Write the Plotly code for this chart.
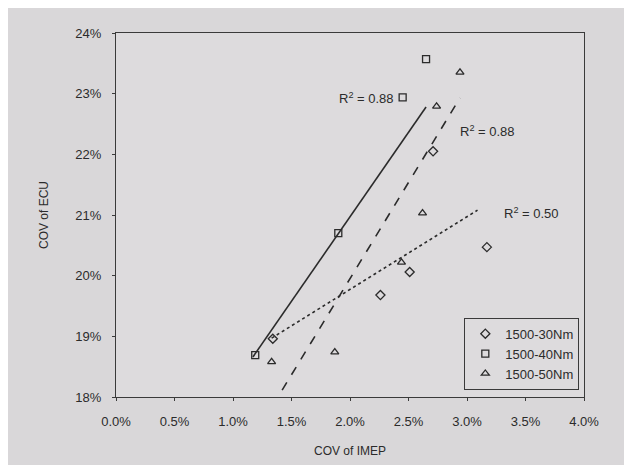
import plotly.graph_objects as go

# COV of IMEP (%) vs COV of ECU (%) per load case
imep_30 = [1.34, 2.26, 2.51, 2.71, 3.17]
ecu_30 = [18.96, 19.68, 20.06, 22.05, 20.47]

imep_40 = [1.19, 1.90, 2.45, 2.65]
ecu_40 = [18.69, 20.70, 22.94, 23.57]

imep_50 = [1.33, 1.87, 2.44, 2.62, 2.74, 2.94]
ecu_50 = [18.58, 18.74, 20.22, 21.03, 22.79, 23.35]

# linear trendlines (start/end)
fit_x_30, fit_y_30 = [1.33, 3.09], [18.97, 21.08]
fit_x_40, fit_y_40 = [1.17, 2.65], [18.66, 22.78]
fit_x_50, fit_y_50 = [1.34, 2.94], [17.86, 22.93]

series_names = ["1500-30Nm", "1500-40Nm", "1500-50Nm"]
r2_labels = ["R<sup>2</sup> = 0.50", "R<sup>2</sup> = 0.88", "R<sup>2</sup> = 0.88"]

x_ticks = [0, 0.5, 1.0, 1.5, 2.0, 2.5, 3.0, 3.5, 4.0]
x_tick_text = ["0.0%", "0.5%", "1.0%", "1.5%", "2.0%", "2.5%", "3.0%", "3.5%", "4.0%"]
y_ticks = [18, 19, 20, 21, 22, 23, 24]
y_tick_text = ["18%", "19%", "20%", "21%", "22%", "23%", "24%"]

INK = "#2b2b2b"
fig = go.Figure()

# trendlines
fig.add_trace(go.Scatter(x=fit_x_30, y=fit_y_30, mode="lines", showlegend=False,
                         line=dict(color=INK, width=1.6, dash="dot")))
fig.add_trace(go.Scatter(x=fit_x_40, y=fit_y_40, mode="lines", showlegend=False,
                         line=dict(color=INK, width=1.6)))
fig.add_trace(go.Scatter(x=fit_x_50, y=fit_y_50, mode="lines", showlegend=False,
                         line=dict(color=INK, width=1.6, dash="dash")))

# data points
for xs, ys, name, sym in [
    (imep_30, ecu_30, series_names[0], "diamond-open"),
    (imep_40, ecu_40, series_names[1], "square-open"),
    (imep_50, ecu_50, series_names[2], "triangle-up-open"),
]:
    fig.add_trace(go.Scatter(
        x=xs, y=ys, mode="markers", name=name,
        marker=dict(symbol=sym, size=7, color=INK, line=dict(color=INK, width=1.3)),
    ))

# R² labels
fig.add_annotation(x=fit_x_30[1], y=fit_y_30[1], text=r2_labels[0], showarrow=False,
                   xanchor="left", xshift=24, yshift=-3, font=dict(size=13))
fig.add_annotation(x=fit_x_40[1], y=fit_y_40[1], text=r2_labels[1], showarrow=False,
                   xanchor="right", xshift=-30, yshift=9, font=dict(size=13))
fig.add_annotation(x=fit_x_50[1], y=fit_y_50[1], text=r2_labels[2], showarrow=False,
                   xanchor="left", xshift=-2, yshift=-33, font=dict(size=13))

axis_common = dict(showline=True, linecolor="#3a3a3a", linewidth=1, mirror=True,
                   showgrid=False, zeroline=False, ticks="outside", ticklen=3,
                   tickcolor="#3a3a3a", tickfont=dict(size=13, color=INK))

fig.update_layout(
    width=632, height=465,
    paper_bgcolor="#d9d7d9", plot_bgcolor="#dddbdd",
    font=dict(family="Liberation Sans, Arial, sans-serif", size=12, color=INK),
    margin=dict(l=108, r=56, t=25, b=76),
    xaxis=dict(range=[0, 4], tickvals=x_ticks, ticktext=x_tick_text,
               ticklabelstandoff=9,
               title=dict(text="COV of IMEP", font=dict(size=12), standoff=19),
               **axis_common),
    yaxis=dict(range=[18, 24], tickvals=y_ticks, ticktext=y_tick_text,
               ticklabelstandoff=8,
               title=dict(text="COV of ECU", font=dict(size=12), standoff=24),
               **axis_common),
    legend=dict(x=0.99, y=0.02, xanchor="right", yanchor="bottom",
                bgcolor="#dddbdd", bordercolor="#3a3a3a", borderwidth=1,
                font=dict(size=13), tracegroupgap=0, itemwidth=30),
)

fig.write_html("out.html")
